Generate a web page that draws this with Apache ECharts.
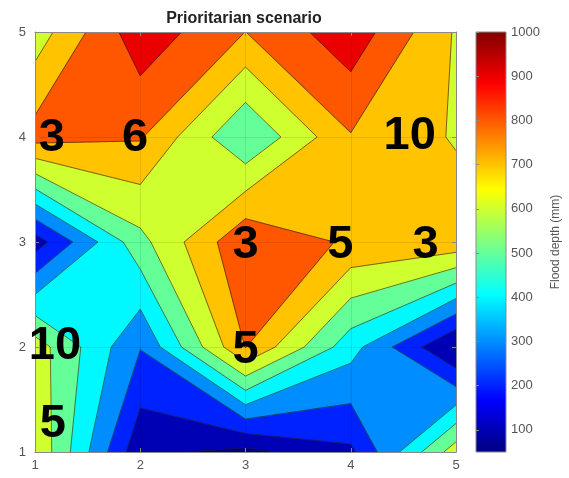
<!DOCTYPE html>
<html>
<head>
<meta charset="utf-8">
<script src="https://cdn.jsdelivr.net/npm/echarts@6/dist/echarts.min.js"></script>
<style>
  html, body { margin: 0; padding: 0; background: #fff; }
  #chart { width: 569px; height: 478px; }
</style>
</head>
<body>
<div id="chart"></div>
<script>
// Grid coordinates
const xValues = [1, 2, 3, 4, 5];
const yValues = [1, 2, 3, 4, 5];

// Flood depth (mm) at each grid node, one array per row (y = 1 .. 5), columns x = 1 .. 5
const depthY1 = [690, 124, 70, 180, 655];
const depthY2 = [650, 305, 803, 440, 85];
const depthY3 = [150, 568, 885, 784, 767];
const depthY4 = [840, 809, 502, 793, 690];
const depthY5 = [645, 965, 799, 965, 689];

// Contour levels and colour range
const contourLevels = [100, 200, 300, 400, 500, 600, 700, 800, 900];
const colorMin = 50;
const colorMax = 1000;
const colorbarTicks = [100, 200, 300, 400, 500, 600, 700, 800, 900, 1000];
const axisTicks = [1, 2, 3, 4, 5];

// Annotations
const noteText = ['3', '6', '10', '3', '5', '3', '10', '5', '5'];
const noteX = [1.16, 1.95, 4.56, 3.0, 3.9, 4.71, 1.19, 3.0, 1.17];
const noteY = [3.99, 3.99, 4.01, 2.97, 2.97, 2.97, 2.01, 1.97, 1.27];

const depthRows = [depthY1, depthY2, depthY3, depthY4, depthY5];

function jet(t) {
  t = Math.max(0, Math.min(1, t));
  const c = v => Math.round(Math.max(0, Math.min(1, v)) * 255);
  const r = 1.5 - Math.abs(4 * t - 3);
  const g = 1.5 - Math.abs(4 * t - 2);
  const b = 1.5 - Math.abs(4 * t - 1);
  return 'rgb(' + c(r) + ',' + c(g) + ',' + c(b) + ')';
}
const toT = v => (v - colorMin) / (colorMax - colorMin);

function lerpPt(a, b, level) {
  const t = (level - a[2]) / (b[2] - a[2]);
  return [a[0] + t * (b[0] - a[0]), a[1] + t * (b[1] - a[1]), level];
}

// Part of a grid cell where depth >= level; saddles are resolved by the cell-centre mean
function regionAbove(cell, level) {
  const above = cell.map(p => p[2] >= level);
  const nAbove = above.filter(Boolean).length;
  if (nAbove === 0) return [];
  if (nAbove === 4) return [cell];
  const centre = (cell[0][2] + cell[1][2] + cell[2][2] + cell[3][2]) / 4;
  if (nAbove === 2 && above[0] === above[2] && centre < level) {
    const polys = [];
    for (let i = 0; i < 4; i++) {
      if (!above[i]) continue;
      const prev = cell[(i + 3) % 4], cur = cell[i], next = cell[(i + 1) % 4];
      polys.push([lerpPt(prev, cur, level), cur, lerpPt(cur, next, level)]);
    }
    return polys;
  }
  const out = [];
  for (let i = 0; i < 4; i++) {
    const a = cell[i], b = cell[(i + 1) % 4];
    if (above[i]) out.push(a);
    if (above[i] !== above[(i + 1) % 4]) out.push(lerpPt(a, b, level));
  }
  return [out];
}

// Iso-line pieces inside one cell, using the same saddle rule
function cellSegments(cell, level) {
  const cross = [];
  for (let i = 0; i < 4; i++) {
    const a = cell[i], b = cell[(i + 1) % 4];
    const ina = a[2] >= level, inb = b[2] >= level;
    if (ina !== inb) cross.push({ p: lerpPt(a, b, level), exit: ina });
  }
  const centre = (cell[0][2] + cell[1][2] + cell[2][2] + cell[3][2]) / 4;
  const lowsJoined = cross.length === 4 && centre < level;
  const segs = [];
  for (let i = 0; i < cross.length; i++) {
    if (cross[i].exit !== lowsJoined) {
      segs.push([cross[i].p, cross[(i + 1) % cross.length].p]);
    }
  }
  return segs;
}

const cells = [];
for (let j = 0; j < yValues.length - 1; j++) {
  for (let i = 0; i < xValues.length - 1; i++) {
    cells.push([
      [xValues[i], yValues[j], depthRows[j][i]],
      [xValues[i + 1], yValues[j], depthRows[j][i + 1]],
      [xValues[i + 1], yValues[j + 1], depthRows[j + 1][i + 1]],
      [xValues[i], yValues[j + 1], depthRows[j + 1][i]]
    ]);
  }
}

// Filled layers: whole field first, then each "depth >= level" region on top
const fillPolys = [];
cells.forEach(c => fillPolys.push({ pts: c, color: jet(toT(colorMin)) }));
contourLevels.forEach(L => {
  const col = jet(toT(L));
  cells.forEach(c => regionAbove(c, L).forEach(p => fillPolys.push({ pts: p, color: col })));
});

const isoSegs = [];
contourLevels.forEach(L => cells.forEach(c => cellSegments(c, L).forEach(s => isoSegs.push(s))));

const jetStops = [0, 0.125, 0.375, 0.625, 0.875, 1].map(t => ({ offset: t, color: jet(t) }));

const axisGray = '#8a8a8a';
const labelGray = '#555';
const fontFam = '"Liberation Sans", Arial, Helvetica, sans-serif';

const chart = echarts.init(document.getElementById('chart'), null, { renderer: 'canvas' });

chart.setOption({
  animation: false,
  backgroundColor: '#fff',
  textStyle: { fontFamily: fontFam },
  title: {
    text: 'Prioritarian scenario',
    left: 239,
    top: 6,
    textAlign: 'center',
    textStyle: { fontSize: 16, fontWeight: 'bold', color: '#222', fontFamily: fontFam }
  },
  grid: [
    { left: 35, top: 32, width: 421, height: 420 },
    { left: 476, top: 32, width: 30, height: 420 }
  ],
  xAxis: [
    {
      gridIndex: 0, type: 'value', min: 1, max: 5, interval: 1, z: 10,
      axisLine: { show: true, lineStyle: { color: axisGray, width: 1 } },
      axisTick: { show: true, inside: true, length: 4, lineStyle: { color: axisGray } },
      axisLabel: { color: labelGray, fontSize: 13, margin: 7, fontFamily: fontFam },
      splitLine: { show: true, lineStyle: { color: 'rgba(0,0,0,0.09)', width: 1 } }
    },
    {
      gridIndex: 0, type: 'value', min: 1, max: 5, interval: 1, position: 'top', z: 10,
      axisLine: { show: true, lineStyle: { color: axisGray, width: 1 } },
      axisTick: { show: true, inside: true, length: 4, lineStyle: { color: axisGray } },
      axisLabel: { show: false }, splitLine: { show: false }
    },
    { gridIndex: 1, type: 'value', min: 0, max: 1, show: false }
  ],
  yAxis: [
    {
      gridIndex: 0, type: 'value', min: 1, max: 5, interval: 1, z: 10,
      axisLine: { show: true, lineStyle: { color: axisGray, width: 1 } },
      axisTick: { show: true, inside: true, length: 4, lineStyle: { color: axisGray } },
      axisLabel: { color: labelGray, fontSize: 13, margin: 9, fontFamily: fontFam },
      splitLine: { show: true, lineStyle: { color: 'rgba(0,0,0,0.09)', width: 1 } }
    },
    {
      gridIndex: 0, type: 'value', min: 1, max: 5, interval: 1, position: 'right', z: 10,
      axisLine: { show: true, lineStyle: { color: axisGray, width: 1 } },
      axisTick: { show: true, inside: true, length: 4, lineStyle: { color: axisGray } },
      axisLabel: { show: false }, splitLine: { show: false }
    },
    {
      gridIndex: 1, type: 'value', min: colorMin, max: colorMax, position: 'right', z: 10,
      axisLine: { show: false },
      axisTick: { show: true, inside: false, length: 3, customValues: colorbarTicks, lineStyle: { color: axisGray } },
      axisLabel: {
        show: true, customValues: colorbarTicks, color: labelGray, fontSize: 13, margin: 5,
        fontFamily: fontFam, formatter: v => String(v)
      },
      splitLine: { show: false },
      name: 'Flood depth (mm)',
      nameLocation: 'middle',
      nameRotate: 90,
      nameGap: 44,
      nameTextStyle: { color: labelGray, fontSize: 12, fontFamily: fontFam }
    }
  ],
  series: [
    {
      type: 'custom',
      xAxisIndex: 0, yAxisIndex: 0,
      silent: true, clip: true,
      data: fillPolys.map((p, i) => [i]),
      renderItem: function (params, api) {
        const p = fillPolys[params.dataIndex];
        const pts = p.pts.map(q => api.coord([q[0], q[1]]));
        return {
          type: 'polygon',
          shape: { points: pts },
          style: { fill: p.color, stroke: p.color, lineWidth: 0.7 }
        };
      },
      z: 1
    },
    {
      type: 'custom',
      xAxisIndex: 0, yAxisIndex: 0,
      silent: true, clip: true,
      data: isoSegs.map((s, i) => [i]),
      renderItem: function (params, api) {
        const s = isoSegs[params.dataIndex];
        const a = api.coord([s[0][0], s[0][1]]);
        const b = api.coord([s[1][0], s[1][1]]);
        return {
          type: 'line',
          shape: { x1: a[0], y1: a[1], x2: b[0], y2: b[1] },
          style: { stroke: 'rgba(30,30,20,0.75)', lineWidth: 0.8 }
        };
      },
      z: 2
    },
    {
      type: 'custom',
      xAxisIndex: 0, yAxisIndex: 0,
      silent: true, clip: false,
      data: noteText.map((t, i) => [noteX[i], noteY[i]]),
      renderItem: function (params, api) {
        const c = api.coord([api.value(0), api.value(1)]);
        return {
          type: 'text',
          x: c[0], y: c[1],
          style: {
            text: noteText[params.dataIndex],
            fill: '#000',
            font: 'bold 47px ' + fontFam,
            textAlign: 'center',
            textVerticalAlign: 'middle',
            verticalAlign: 'middle'
          }
        };
      },
      z: 20
    },
    {
      type: 'custom',
      xAxisIndex: 2, yAxisIndex: 2,
      silent: true,
      data: [[0, colorMin, 1, colorMax]],
      renderItem: function (params, api) {
        const a = api.coord([api.value(0), api.value(1)]);
        const b = api.coord([api.value(2), api.value(3)]);
        return {
          type: 'rect',
          shape: { x: a[0], y: b[1], width: b[0] - a[0], height: a[1] - b[1] },
          style: {
            fill: { type: 'linear', x: 0, y: 1, x2: 0, y2: 0, colorStops: jetStops },
            stroke: axisGray, lineWidth: 1
          }
        };
      }
    }
  ]
});
</script>
</body>
</html>
